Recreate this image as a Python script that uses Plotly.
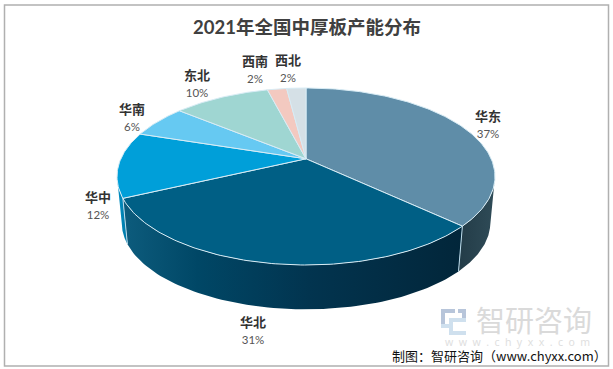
import numpy as np
import plotly.graph_objects as go

regions = ["华东", "华北", "华中", "华南", "东北", "西南", "西北"]
shares = [37, 31, 12, 6, 10, 2, 2]

top_colors = ["#5f8da8", "#005f85", "#009fd9", "#66c9f2", "#9fd6d2", "#f3c9c0", "#d5e0e6"]
wall_gradients = {
    "华东": [[0, "#233c48"], [1, "#2f4b57"]],
    "华北": [[0, "#0d5c7d"], [0.22, "#004766"], [0.55, "#02344f"], [1, "#02263a"]],
    "华中": [[0, "#0090c4"], [1, "#0078a6"]],
}
label_pos = {
    "华东": (488, 124), "华北": (253, 330), "华中": (98, 205), "华南": (132, 117),
    "东北": (197, 83), "西南": (255, 69), "西北": (288, 68),
}

# pie geometry in picture pixels
CX, CY, RX, RY = 306, 176.5, 189, 88.5
K = 0.20            # perspective
S, BCY = 0.975, 223 # floor ellipse


def project(t):
    X, Y = np.sin(t), np.cos(t)
    d = 1 + K * Y
    return np.sqrt(1 - K * K) * X / d, (Y + K) / d


def top_xy(t):
    u, v = project(t)
    return CX + RX * u, CY - RY * v


def bottom_xy(t):
    u, v = project(t)
    return CX + RX * S * u, BCY - RY * S * v


edges = np.cumsum([0] + shares) / sum(shares) * 2 * np.pi

fig = go.Figure()

# side walls
t_right, t_left = np.arccos(-K), 2 * np.pi - np.arccos(-K)
for i, name in enumerate(regions):
    a, b = max(edges[i], t_right), min(edges[i + 1], t_left)
    if a >= b:
        continue
    t = np.linspace(a, b, 80)
    xt, yt = top_xy(t)
    xb, yb = bottom_xy(t)
    fig.add_trace(go.Scatter(
        x=np.r_[xt, xb[::-1], xt[0]], y=np.r_[yt, yb[::-1], yt[0]],
        mode="lines", fill="toself", line=dict(width=0),
        fillgradient=dict(type="horizontal", colorscale=wall_gradients[name]),
        hoverinfo="skip", showlegend=False))

# wall separators
for e in edges:
    if t_right < e < t_left:
        xt, yt = top_xy(np.array([e]))
        xb, yb = bottom_xy(np.array([e]))
        fig.add_trace(go.Scatter(
            x=[xt[0], xb[0]], y=[yt[0], yb[0]], mode="lines",
            line=dict(color="#bcdcec", width=1), hoverinfo="skip", showlegend=False))

# top slices
for i, name in enumerate(regions):
    t = np.linspace(edges[i], edges[i + 1], max(8, shares[i] * 4))
    x, y = top_xy(t)
    ax, ay = CX, CY - RY * K
    fig.add_trace(go.Scatter(
        x=np.r_[ax, x, ax], y=np.r_[ay, y, ay], mode="lines", fill="toself",
        fillcolor=top_colors[i], line=dict(color="#d8ecf5", width=1),
        name=name, hoverinfo="name", showlegend=False))

font_cjk = "Lato, 'Noto Sans CJK SC', sans-serif"
annotations = []
for name, share in zip(regions, shares):
    px, py = label_pos[name]
    annotations.append(dict(
        x=px, y=py, xref="x", yref="y", showarrow=False,
        text=f"<b>{name}</b><br><span style='font-size:11.5px;color:#555'>{share}%</span>",
        font=dict(family=font_cjk, size=13, color="#333333"), align="center"))

annotations += [
    dict(x=306.5, y=27, xref="x", yref="y", showarrow=False,
         text="<b>2021年全国中厚板产能分布</b>",
         font=dict(family=font_cjk, size=18.5, color="#404040")),
    dict(x=534, y=319, xref="x", yref="y", showarrow=False, text="智研咨询",
         font=dict(family="'Noto Sans CJK SC'", size=29, color="#dadada")),
    dict(x=517, y=342, xref="x", yref="y", showarrow=False,
         text="w  w  w  .  c  h  y  x  x  .  c  o  m",
         font=dict(family="'Noto Sans', sans-serif", size=10.5, color="#e0e0e0")),
    dict(x=499.5, y=355, xref="x", yref="y", showarrow=False,
         text="制图：智研咨询（www.chyxx.com）",
         font=dict(family="'Noto Sans CJK SC'", size=13, color="#111111")),
]

logo_dark, logo_light = "#b7c5da", "#cfe0ee"
shapes = [
    dict(type="rect", xref="paper", yref="paper", x0=4.5 / 613, x1=608.5 / 613,
         y0=1 - 366 / 369, y1=1 - 5 / 369, line=dict(color="#b0b0b0", width=1.5),
         layer="below"),
]
for x0, y0, x1, y1, c in [(441, 309, 455, 313, logo_dark), (441, 309, 445, 328, logo_dark),
                          (441, 324, 450, 328, logo_light), (458, 309, 466, 313, logo_dark),
                          (462, 309, 466, 322, logo_dark), (449, 318, 466, 322, logo_light),
                          (449, 318, 453, 335, logo_light), (449, 331, 466, 335, logo_light)]:
    shapes.append(dict(type="rect", xref="x", yref="y", x0=x0, x1=x1, y0=y0, y1=y1,
                       fillcolor=c, line_width=0, layer="below"))

fig.update_layout(
    width=613, height=369, margin=dict(l=0, r=0, t=0, b=0),
    paper_bgcolor="white", plot_bgcolor="white",
    xaxis=dict(range=[0, 613], visible=False, fixedrange=True),
    yaxis=dict(range=[369, 0], visible=False, fixedrange=True),
    annotations=annotations, shapes=shapes, showlegend=False,
)
fig.write_html("out.html", config=dict(displayModeBar=False),
               post_script="document.body.style.margin='0';document.body.style.overflow='hidden';")
